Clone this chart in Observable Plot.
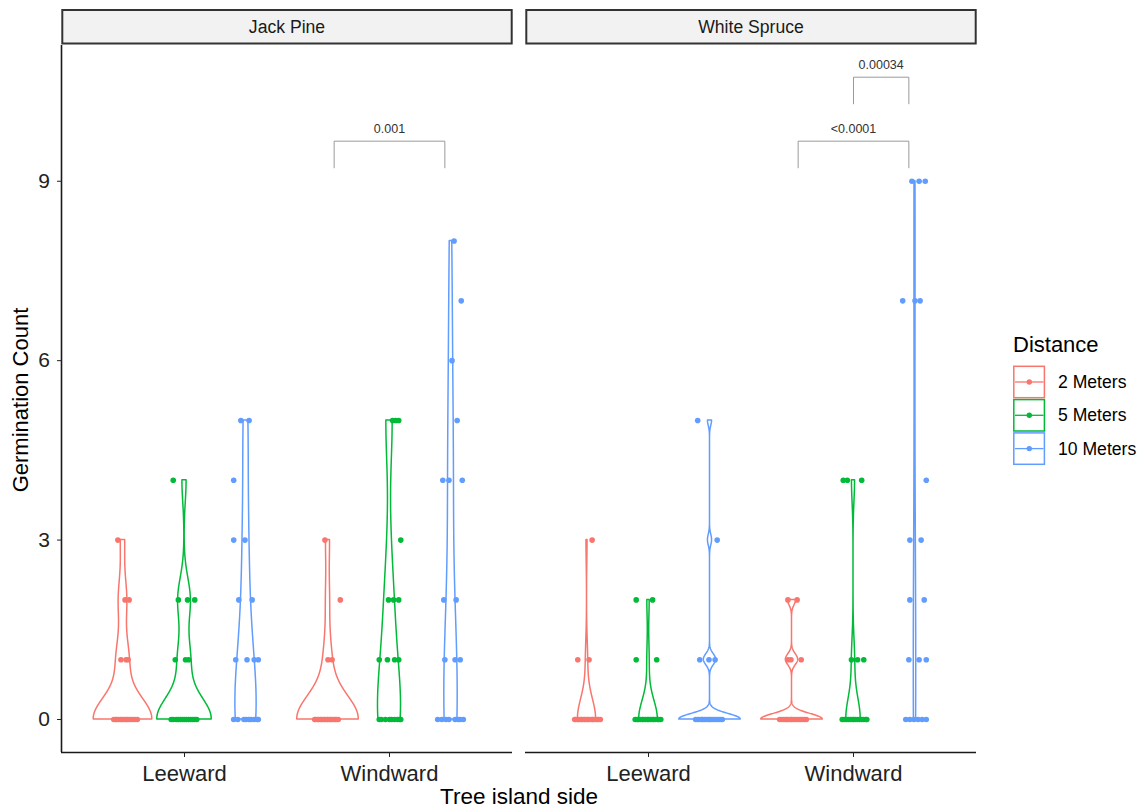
<!DOCTYPE html>
<html>
<head>
<meta charset="utf-8">
<script src="https://cdn.jsdelivr.net/npm/d3@7"></script>
<script src="https://cdn.jsdelivr.net/npm/@observablehq/plot@0.6"></script>
<style>
  html, body { margin: 0; padding: 0; background: #fff; }
  body { font-family: "Liberation Sans", Arial, sans-serif; }
  #wrap { position: relative; width: 1145px; height: 810px; overflow: hidden; }
  #wrap > svg.plot { position: absolute; left: 0; top: 0; }
  .ytitle { position: absolute; left: 21px; top: 400px; transform: translate(-50%, -50%) rotate(-90deg);
            font-size: 22px; white-space: nowrap; color: #000; }
  .xtitle { position: absolute; left: 519px; top: 797px; transform: translate(-50%, -50%);
            font-size: 22.5px; white-space: nowrap; color: #000; }
  #legend { position: absolute; left: 0; top: 0; pointer-events: none; }
</style>
</head>
<body>
<div id="wrap"></div>
<script>
// ---------------- data ----------------
const species = ["Jack Pine", "White Spruce"];
const sides = ["Leeward", "Windward"];
const distances = ["2 Meters", "5 Meters", "10 Meters"];
const colors = ["#F8766D", "#00BA38", "#619CFF"];
const yTicks = [0, 3, 6, 9];

// germination counts per plot (20 per group)
const jpLee2  = [3, 2, 2, 1, 1, 1, 0, 0, 0, 0, 0, 0, 0, 0, 0, 0, 0, 0, 0, 0];
const jpLee5  = [4, 2, 2, 2, 1, 1, 1, 0, 0, 0, 0, 0, 0, 0, 0, 0, 0, 0, 0, 0];
const jpLee10 = [5, 5, 4, 3, 3, 2, 2, 1, 1, 1, 1, 0, 0, 0, 0, 0, 0, 0, 0, 0];
const jpWin2  = [3, 2, 1, 1, 0, 0, 0, 0, 0, 0, 0, 0, 0, 0, 0, 0, 0, 0, 0, 0];
const jpWin5  = [5, 5, 5, 3, 2, 2, 2, 1, 1, 1, 1, 0, 0, 0, 0, 0, 0, 0, 0, 0];
const jpWin10 = [8, 7, 6, 5, 4, 4, 4, 2, 2, 1, 1, 1, 0, 0, 0, 0, 0, 0, 0, 0];
const wsLee2  = [3, 1, 1, 0, 0, 0, 0, 0, 0, 0, 0, 0, 0, 0, 0, 0, 0, 0, 0, 0];
const wsLee5  = [2, 2, 1, 1, 0, 0, 0, 0, 0, 0, 0, 0, 0, 0, 0, 0, 0, 0, 0, 0];
const wsLee10 = [5, 3, 1, 1, 1, 0, 0, 0, 0, 0, 0, 0, 0, 0, 0, 0, 0, 0, 0, 0];
const wsWin2  = [2, 2, 1, 1, 1, 0, 0, 0, 0, 0, 0, 0, 0, 0, 0, 0, 0, 0, 0, 0];
const wsWin5  = [4, 4, 4, 1, 1, 1, 0, 0, 0, 0, 0, 0, 0, 0, 0, 0, 0, 0, 0, 0];
const wsWin10 = [9, 9, 9, 7, 7, 7, 4, 3, 3, 2, 2, 1, 1, 1, 0, 0, 0, 0, 0, 0];

// horizontal jitter of each point (category units)
const jpLee2J  = [-0.025, 0.010, 0.030, -0.010, 0.015, 0.025, -0.045, -0.035, -0.030, -0.020, -0.010, -0.005, 0.005, 0.015, 0.020, 0.030, 0.040, 0.050, 0.060, 0.070];
const jpLee5J  = [-0.055, -0.030, 0.015, 0.050, -0.045, 0.005, 0.020, -0.065, -0.055, -0.040, -0.030, -0.020, -0.010, 0.000, 0.010, 0.020, 0.030, 0.040, 0.050, 0.060];
const jpLee10J = [-0.025, 0.015, -0.060, -0.060, -0.005, -0.035, 0.030, -0.050, 0.005, 0.040, 0.060, -0.060, -0.040, -0.010, 0.000, 0.015, 0.025, 0.040, 0.055, 0.060];
const jpWin2J  = [-0.015, 0.060, 0.000, 0.020, -0.065, -0.060, -0.050, -0.045, -0.035, -0.030, -0.020, -0.015, -0.005, 0.000, 0.010, 0.015, 0.025, 0.035, 0.040, 0.050];
const jpWin5J  = [0.015, 0.030, 0.045, 0.055, -0.005, 0.020, 0.045, -0.050, -0.010, 0.025, 0.045, -0.050, -0.040, -0.020, 0.000, 0.010, 0.025, 0.040, 0.050, 0.055];
const jpWin10J = [0.015, 0.050, 0.005, 0.030, -0.040, -0.010, 0.055, -0.035, 0.025, -0.030, 0.020, 0.045, -0.065, -0.045, -0.025, -0.010, 0.020, 0.035, 0.045, 0.060];
const wsLee2J  = [0.025, -0.045, 0.010, -0.060, -0.055, -0.045, -0.040, -0.030, -0.025, -0.015, -0.010, 0.000, 0.005, 0.015, 0.025, 0.030, 0.040, 0.050, 0.055, 0.065];
const wsLee5J  = [-0.060, 0.020, -0.060, 0.040, -0.065, -0.055, -0.050, -0.040, -0.030, -0.025, -0.015, -0.005, 0.000, 0.010, 0.020, 0.025, 0.035, 0.045, 0.050, 0.060];
const wsLee10J = [-0.060, 0.035, -0.050, -0.005, 0.025, -0.070, -0.060, -0.050, -0.040, -0.035, -0.025, -0.015, -0.005, 0.000, 0.010, 0.020, 0.030, 0.040, 0.050, 0.060];
const wsWin2J  = [-0.020, 0.025, -0.020, -0.005, 0.045, -0.060, -0.050, -0.040, -0.030, -0.025, -0.015, -0.005, 0.000, 0.010, 0.020, 0.030, 0.040, 0.050, 0.060, 0.070];
const wsWin5J  = [-0.050, -0.030, 0.040, -0.010, 0.020, 0.050, -0.055, -0.045, -0.035, -0.025, -0.015, -0.005, 0.000, 0.010, 0.020, 0.030, 0.040, 0.050, 0.060, 0.065];
const wsWin10J = [-0.015, 0.020, 0.050, -0.060, 0.000, 0.025, 0.055, -0.025, 0.030, -0.025, 0.045, -0.030, 0.020, 0.055, -0.045, -0.025, -0.005, 0.015, 0.035, 0.055];

// significance brackets (comparison positions and p-values)
const brackets = [
  {species: "Jack Pine",    xmin: 1.73, xmax: 2.27, y: 9.67,  tip: 0.445, label: "0.001"},
  {species: "White Spruce", xmin: 1.73, xmax: 2.27, y: 9.67,  tip: 0.445, label: "<0.0001"},
  {species: "White Spruce", xmin: 2.00, xmax: 2.27, y: 10.74, tip: 0.445, label: "0.00034"}
];

// ---------------- build groups ----------------
const groupDefs = [
  ["Jack Pine", "Leeward", "2 Meters", jpLee2, jpLee2J],
  ["Jack Pine", "Leeward", "5 Meters", jpLee5, jpLee5J],
  ["Jack Pine", "Leeward", "10 Meters", jpLee10, jpLee10J],
  ["Jack Pine", "Windward", "2 Meters", jpWin2, jpWin2J],
  ["Jack Pine", "Windward", "5 Meters", jpWin5, jpWin5J],
  ["Jack Pine", "Windward", "10 Meters", jpWin10, jpWin10J],
  ["White Spruce", "Leeward", "2 Meters", wsLee2, wsLee2J],
  ["White Spruce", "Leeward", "5 Meters", wsLee5, wsLee5J],
  ["White Spruce", "Leeward", "10 Meters", wsLee10, wsLee10J],
  ["White Spruce", "Windward", "2 Meters", wsWin2, wsWin2J],
  ["White Spruce", "Windward", "5 Meters", wsWin5, wsWin5J],
  ["White Spruce", "Windward", "10 Meters", wsWin10, wsWin10J]
];

const dodge = 0.3;          // 0.9 / 3 groups
const xDomain = [0.4, 2.6];
const yDomain = [-0.552, 11.27];

function bwNrd0(x) {
  const s = x.slice().sort((a, b) => a - b);
  const hi = d3.deviation(s);
  let lo = Math.min(hi, (d3.quantile(s, 0.75) - d3.quantile(s, 0.25)) / 1.34);
  if (!lo) lo = hi || Math.abs(s[0]) || 1;
  return 0.9 * lo * Math.pow(s.length, -0.2);
}
function kde(values) {
  const bw = bwNrd0(values);
  const [lo, hi] = d3.extent(values);
  const out = [];
  const n = 512;
  for (let i = 0; i < n; i++) {
    const y = lo + (hi - lo) * i / (n - 1);
    let s = 0;
    for (const v of values) { const u = (y - v) / bw; s += Math.exp(-0.5 * u * u); }
    out.push({y, density: s / (values.length * bw * Math.sqrt(2 * Math.PI))});
  }
  return out;
}

const groups = groupDefs.map(([sp, side, dist, counts, jit]) => {
  const center = sides.indexOf(side) + 1 + (distances.indexOf(dist) - 1) * dodge;
  return {sp, side, dist, counts, jit, center, key: sp + "|" + side + "|" + dist, dens: kde(counts)};
});
const maxBySpecies = new Map(species.map(s => [s, d3.max(groups.filter(g => g.sp === s), g => d3.max(g.dens, d => d.density))]));

const violins = groups.flatMap(g => g.dens.map(d => {
  const hw = (dodge / 2) * d.density / maxBySpecies.get(g.sp);
  return {species: g.sp, dist: g.dist, key: g.key, y: d.y, x1: g.center - hw, x2: g.center + hw};
}));
const points = groups.flatMap(g => g.counts.map((v, i) => ({species: g.sp, dist: g.dist, x: g.center + g.jit[i], y: v})));
const bracketPaths = brackets.flatMap((b, i) => [
  {id: i, species: b.species, x: b.xmin, y: b.y - b.tip},
  {id: i, species: b.species, x: b.xmin, y: b.y},
  {id: i, species: b.species, x: b.xmax, y: b.y},
  {id: i, species: b.species, x: b.xmax, y: b.y - b.tip}
]);

// strip (facet label) mark: text centred above each panel, grey box drawn behind it
const stripDy = -18.5;
const strip = Plot.text(species, {
  fx: d => d, text: d => d, frameAnchor: "top", lineAnchor: "middle", dy: stripDy, fontSize: 17.6, fill: "#1a1a1a",
  render(index, scales, values, dimensions, context, next) {
    const g = next(index, scales, values, dimensions, context);
    const xa = scales.x(xDomain[0]), xb = scales.x(xDomain[1]), yt = scales.y(yDomain[1]);
    const r = document.createElementNS("http://www.w3.org/2000/svg", "rect");
    r.setAttribute("x", xa + 0.8);
    r.setAttribute("y", yt - 35.5 - stripDy);   // group is translated by dy
    r.setAttribute("width", xb - xa - 1.6);
    r.setAttribute("height", 33.5);
    r.setAttribute("fill", "#f2f2f2");
    r.setAttribute("stroke", "#333");
    r.setAttribute("stroke-width", 2);
    g.insertBefore(r, g.firstChild);
    return g;
  }
});

const plot = Plot.plot({
  width: 1145, height: 810,
  marginLeft: 61, marginRight: 168, marginTop: 45, marginBottom: 58,
  style: {fontFamily: "Liberation Sans, Arial, sans-serif", background: "white", overflow: "visible"},
  fx: {domain: species, paddingInner: 0.028, paddingOuter: 0, axis: null, label: null},
  x: {domain: xDomain, label: null},
  y: {domain: yDomain, label: null},
  color: {domain: distances, range: colors},
  marks: [
    strip,
    Plot.ruleY([yDomain[0]], {stroke: "#1a1a1a", strokeWidth: 1.6}),
    Plot.ruleX([species[0]], {fx: d => d, x: () => xDomain[0], stroke: "#1a1a1a", strokeWidth: 1.6}),
    Plot.axisY({ticks: yTicks, tickSize: 4, tickPadding: 7.5, fontSize: 21, color: "#222", label: null}),
    Plot.axisX({ticks: [1, 2], tickFormat: d => sides[d - 1], tickSize: 5, tickPadding: 8, fontSize: 22, color: "#222", label: null}),
    Plot.areaX(violins, {fx: "species", y: "y", x1: "x1", x2: "x2", z: "key", stroke: "dist", fill: "white", strokeWidth: 1.5}),
    Plot.dot(points, {fx: "species", x: "x", y: "y", fill: "dist", r: 2.8}),
    Plot.line(bracketPaths, {fx: "species", x: "x", y: "y", z: "id", stroke: "#9a9a9a", strokeWidth: 1}),
    Plot.text(brackets, {fx: "species", x: d => (d.xmin + d.xmax) / 2, y: "y", text: "label", dy: -11.7, fontSize: 12.5, fill: "#333"})
  ]
});
plot.classList.add("plot");
const wrap = document.getElementById("wrap");
wrap.appendChild(plot);

// axis titles
const yt = document.createElement("div"); yt.className = "ytitle"; yt.textContent = "Germination Count"; wrap.appendChild(yt);
const xt = document.createElement("div"); xt.className = "xtitle"; xt.textContent = "Tree island side"; wrap.appendChild(xt);

// legend
const color = plot.scale("color");
const leg = d3.select(wrap).append("svg").attr("id", "legend").attr("width", 1145).attr("height", 810)
  .style("font-family", "Liberation Sans, Arial, sans-serif");
leg.append("text").attr("x", 1013).attr("y", 352).attr("font-size", 22).attr("fill", "#000").text("Distance");
color.domain.forEach((d, i) => {
  const y0 = 365.5 + i * 33.3;
  const c = color.range[i];
  leg.append("rect").attr("x", 1013.8).attr("y", y0 + 0.8).attr("width", 30.6).attr("height", 31.4)
    .attr("fill", "white").attr("stroke", c).attr("stroke-width", 1.5);
  leg.append("line").attr("x1", 1015).attr("x2", 1043.5).attr("y1", y0 + 16.5).attr("y2", y0 + 16.5)
    .attr("stroke", c).attr("stroke-width", 1.3);
  leg.append("circle").attr("cx", 1029.3).attr("cy", y0 + 16.5).attr("r", 2.7).attr("fill", c);
  leg.append("text").attr("x", 1058).attr("y", y0 + 16.5).attr("dy", "0.35em").attr("font-size", 17.6)
    .attr("fill", "#000").text(d);
});
</script>
</body>
</html>
